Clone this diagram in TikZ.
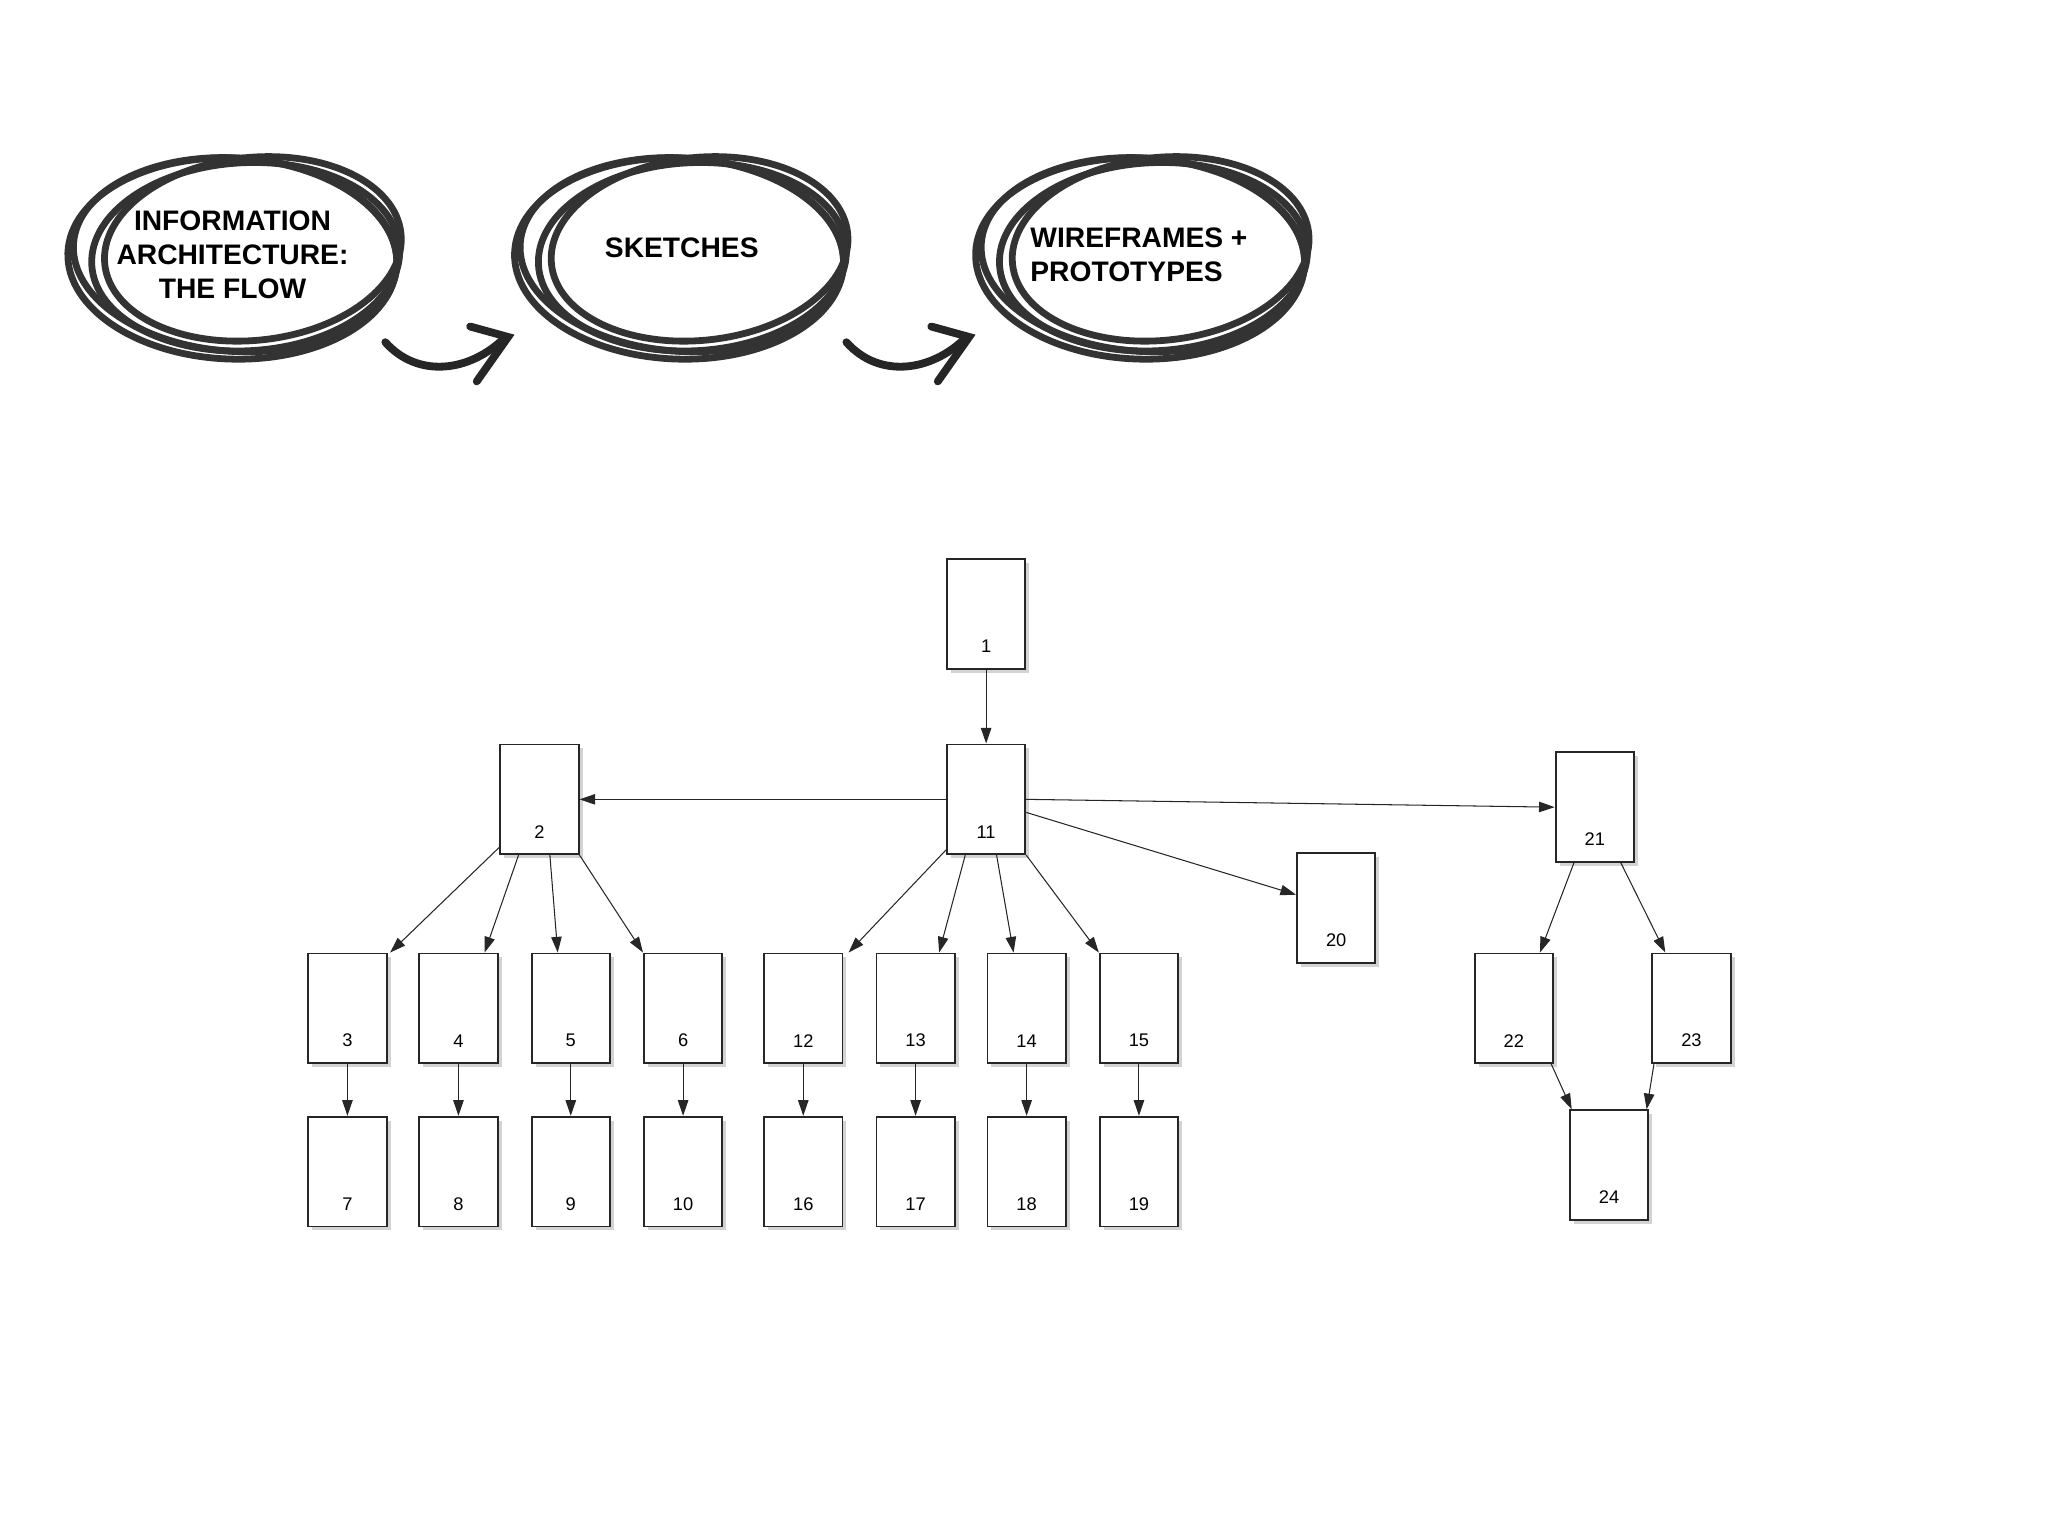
\documentclass[tikz,border=0pt]{standalone}
\usepackage{fontspec}
\setmainfont{Liberation Sans}
\usetikzlibrary{shadows,arrows.meta}
\begin{document}
\begin{tikzpicture}[x=0.5pt,y=-0.5pt,
 page/.style={draw=black!85,line width=0.7pt,fill=white,minimum width=30pt,minimum height=42pt,inner sep=0pt,
   drop shadow={shadow xshift=1.5pt,shadow yshift=-1.5pt,opacity=0.35},
   label={[font=\fontsize{7}{8}\selectfont,anchor=south,yshift=3pt]below:#1}},
 page/.default={},
 ed/.style={-{Triangle[length=6pt,width=4pt]},thin,black!85},
 scrib/.style={line width=2.6pt,black!80},
 big/.style={font=\bfseries\fontsize{10.8}{13}\selectfont,align=center}]
\useasboundingbox (0,0) rectangle (1568,1176);
% scribbled ellipses
\foreach \cx/\nm in {180/A,522/B,875/C}{
 \foreach \r/\a/\b/\dx/\dy in {-4/124/74/0/0, 3/118/72/8/2, 6/114/70/14/-3, -2/126/77/-2/3}{
  \draw[scrib,rotate around={\r:(\cx,195)}] (\cx+\dx,195+\dy) ellipse [x radius=\a, y radius=\b];
 }
}
\node[big] (ia) at (178,195) {INFORMATION\\ARCHITECTURE:\\THE FLOW};
\node[big] (sk) at (522,190) {SKETCHES};
\node[big,align=left] (wf) at (872,195) {WIREFRAMES +\\PROTOTYPES};
% curved arrows
\foreach \x in {295,648}{
 \draw[line width=3pt,black!85,line cap=round] (\x,262) .. controls (\x+25,290) and (\x+65,285) .. (\x+92,258);
 \draw[line width=3pt,black!85,line cap=round] (\x+65,250) -- (\x+94,258) -- (\x+70,292);
}
% pages
\node[page=1] (n1) at (755,470) {};
\node[page=11] (n11) at (755,612) {};
\node[page=2] (n2) at (413,612) {};
\node[page=21] (n21) at (1221,618) {};
\node[page=20] (n20) at (1023,695) {};
\foreach \n/\x in {3/266,4/351,5/437,6/523,12/615,13/701,14/786,15/872,22/1159,23/1295}{
 \node[page=\n] (n\n) at (\x,772) {};
}
\foreach \n/\x in {7/266,8/351,9/437,10/523,16/615,17/701,18/786,19/872}{
 \node[page=\n] (n\n) at (\x,897) {};
}
\node[page=24] (n24) at (1232,892) {};
% edges
\draw[ed] (n1) -- (n11);
\draw[ed] (n11.west) -- (n2.east);
\draw[ed] (n11.east) -- (n21.west);
\draw[ed] ([yshift=-5pt]n11.east) -- ([yshift=5pt]n20.west);
\draw[ed] ([yshift=3pt]n2.south west) -- ([xshift=1pt]n3.north east);
\draw[ed] ([xshift=-8pt]n2.south) -- ([xshift=10pt]n4.north);
\draw[ed] ([xshift=4pt]n2.south) -- ([xshift=-5pt]n5.north);
\draw[ed] (n2.south east) -- (n6.north west);
\draw[ed] ([yshift=2pt]n11.south west) -- ([xshift=2pt]n12.north east);
\draw[ed] ([xshift=-8pt]n11.south) -- ([xshift=9pt]n13.north);
\draw[ed] ([xshift=4pt]n11.south) -- ([xshift=-5pt]n14.north);
\draw[ed] (n11.south east) -- (n15.north west);
\draw[ed] ([xshift=-8pt]n21.south) -- ([xshift=10pt]n22.north);
\draw[ed] ([xshift=10pt]n21.south) -- ([xshift=-10pt]n23.north);
\draw[ed] ([xshift=-1pt]n22.south east) -- ([xshift=1pt]n24.north west);
\draw[ed] ([xshift=1pt]n23.south west) -- ([xshift=-1pt]n24.north east);
\foreach \a/\b in {3/7,4/8,5/9,6/10,12/16,13/17,14/18,15/19}{
 \draw[ed] (n\a) -- (n\b);
}
\end{tikzpicture}
\end{document}
